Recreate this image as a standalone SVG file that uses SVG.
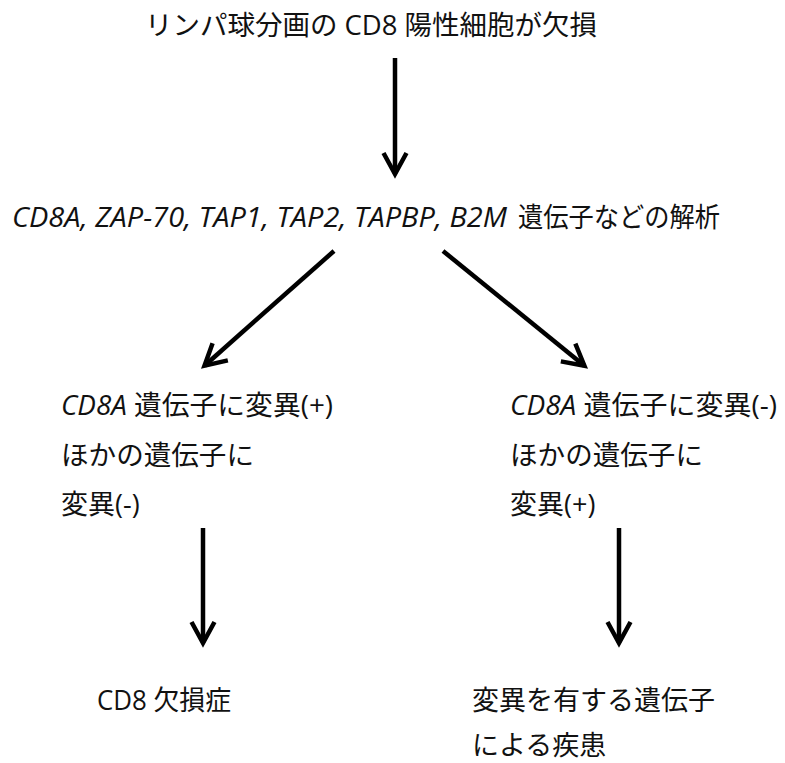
<svg xmlns="http://www.w3.org/2000/svg" width="785" height="763" viewBox="0 0 785 763">
<style>
.t{font-family:"Open Sans","Noto Sans CJK JP",sans-serif;font-size:27px;fill:#111}
.i{font-style:italic}
.ar{stroke:#000;stroke-width:4.5;fill:none}
</style>
<defs>
<marker id="ah" markerUnits="userSpaceOnUse" viewBox="-30 -20 40 40" markerWidth="40" markerHeight="40" refX="0" refY="0" orient="auto" overflow="visible">
<path d="M-21,-11.5 L0,0 L-21,11.5" fill="none" stroke="#000" stroke-width="4.5" stroke-linejoin="miter"/>
</marker>
</defs>
<rect width="785" height="763" fill="#fff"/>
<g id="n1"><text class="t" x="145" y="35" textLength="452" lengthAdjust="spacingAndGlyphs">リンパ球分画の CD8 陽性細胞が欠損</text></g>
<g id="n2">
<text class="t i" x="12" y="227" textLength="495" lengthAdjust="spacingAndGlyphs">CD8A, ZAP-70, TAP1, TAP2, TAPBP, B2M</text>
<text class="t" x="518" y="227" textLength="202" lengthAdjust="spacingAndGlyphs">遺伝子などの解析</text>
</g>
<g id="n3">
<text class="t" x="61" y="415" textLength="272" lengthAdjust="spacingAndGlyphs"><tspan class="i">CD8A</tspan> 遺伝子に変異(+)</text>
<text class="t" x="61" y="465" textLength="193" lengthAdjust="spacingAndGlyphs">ほかの遺伝子に</text>
<text class="t" x="61" y="514">変異(-)</text>
</g>
<g id="n4">
<text class="t" x="510" y="415" textLength="267" lengthAdjust="spacingAndGlyphs"><tspan class="i">CD8A</tspan> 遺伝子に変異(-)</text>
<text class="t" x="510" y="465" textLength="193" lengthAdjust="spacingAndGlyphs">ほかの遺伝子に</text>
<text class="t" x="510" y="514">変異(+)</text>
</g>
<g id="n5"><text class="t" x="97" y="710" textLength="134" lengthAdjust="spacingAndGlyphs">CD8 欠損症</text></g>
<g id="n6">
<text class="t" x="472" y="710">変異を有する遺伝子</text>
<text class="t" x="472" y="755">による疾患</text>
</g>
<g id="connectors" class="ar">
<line x1="395" y1="58" x2="395" y2="174" marker-end="url(#ah)"/>
<line x1="334" y1="251" x2="204.5" y2="365.7" marker-end="url(#ah)"/>
<line x1="443" y1="251" x2="584.4" y2="365.7" marker-end="url(#ah)"/>
<line x1="203" y1="528" x2="203" y2="643" marker-end="url(#ah)"/>
<line x1="619" y1="528" x2="619" y2="643" marker-end="url(#ah)"/>
</g>
</svg>
